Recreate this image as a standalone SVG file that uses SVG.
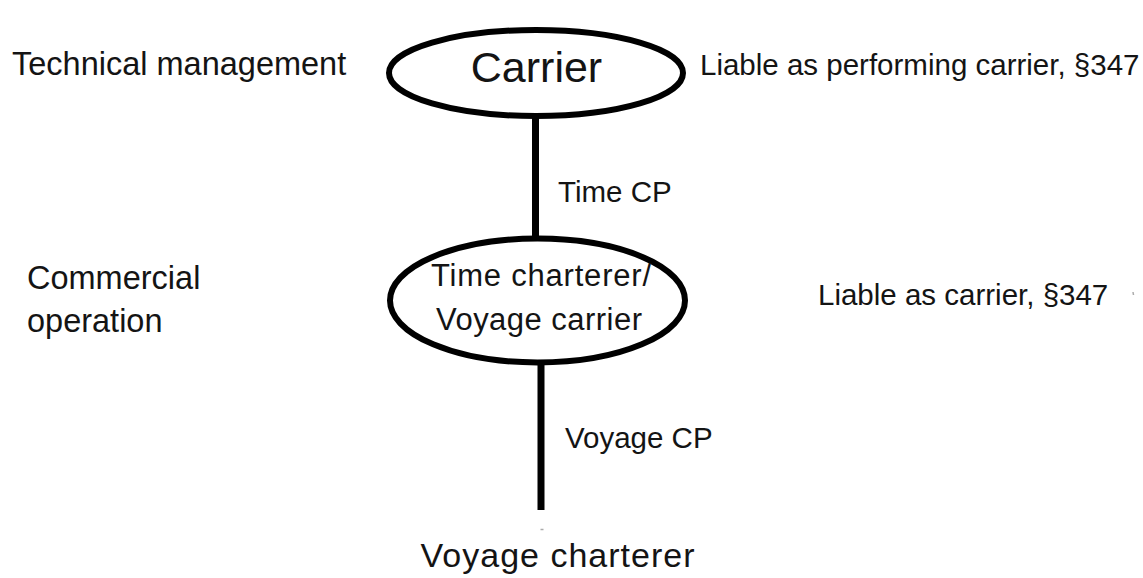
<svg xmlns="http://www.w3.org/2000/svg" width="1143" height="578" viewBox="0 0 1143 578">
<style>
text{font-family:"Liberation Sans",Arial,Helvetica,sans-serif;fill:#141414}
.node{fill:#fff;stroke:#000;stroke-width:6}
.edge{stroke:#000;stroke-width:7;fill:none}
.lbl{font-size:29.5px}
.side{font-size:32.5px}
.speck{stroke:#aaa;stroke-width:1.5}
</style>
<rect width="1143" height="578" fill="#fff"/>
<g id="connectors">
<line class="edge" x1="535.5" y1="114" x2="535.5" y2="239"/>
<line class="edge" x1="541" y1="362" x2="541" y2="510"/>
<text class="lbl" x="558" y="202" font-size="30.5">Time CP</text>
<text class="lbl" x="565" y="448">Voyage CP</text>
</g>
<g id="carrier">
<ellipse class="node" cx="536" cy="73" rx="147" ry="43"/>
<text x="536.5" y="82" font-size="43" text-anchor="middle">Carrier</text>
</g>
<g id="time-charterer">
<ellipse class="node" cx="537.5" cy="300.5" rx="147.5" ry="62"/>
<text x="541" y="285.5" font-size="31" text-anchor="middle" textLength="220">Time charterer/</text>
<text x="539" y="330" font-size="31" text-anchor="middle" textLength="206">Voyage carrier</text>
</g>
<g id="voyage-charterer">
<text x="557.5" y="567" font-size="34" text-anchor="middle" textLength="274">Voyage charterer</text>
</g>
<g id="annotations">
<text class="side" x="12" y="75">Technical management</text>
<text class="side" x="27" y="289">Commercial</text>
<text class="side" x="27" y="332">operation</text>
<text class="lbl" x="700" y="75">Liable as performing carrier, §347</text>
<text class="lbl" x="818" y="305" font-size="29">Liable as carrier, §347</text>
<line class="speck" x1="1133" y1="292" x2="1133.5" y2="295"/>
<line class="speck" x1="540.5" y1="529.5" x2="543.5" y2="529.5"/>
</g>
</svg>
